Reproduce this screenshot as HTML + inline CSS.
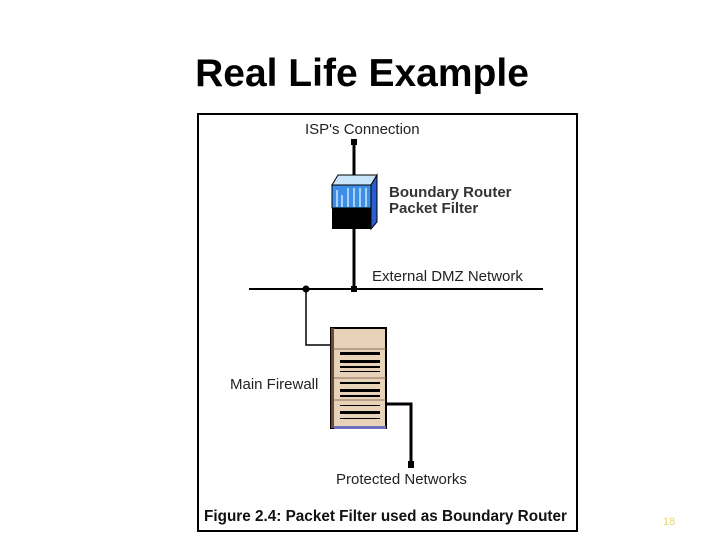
<!DOCTYPE html>
<html><head><style>
body{margin:0;width:720px;height:540px;background:#fff;position:relative;overflow:hidden;font-family:"Liberation Sans",Arial,sans-serif}
.t{position:absolute;white-space:nowrap;color:#222}
</style></head><body>
<div class="t" style="left:0;width:720px;top:52px;text-align:center;font-size:39px;font-weight:bold;color:#000;padding-left:2px">Real Life Example</div>
<svg width="720" height="540" style="position:absolute;left:0;top:0">
<rect x="198" y="114" width="379" height="417" fill="none" stroke="#000" stroke-width="2"/>
<g stroke="#000" fill="none">
<line x1="354" y1="142" x2="354" y2="289" stroke-width="3"/>
<line x1="249" y1="289" x2="543" y2="289" stroke-width="2"/>
<polyline points="306,289 306,345 331,345" stroke-width="1.5"/>
<polyline points="386,404 411,404 411,465" stroke-width="3"/>
</g>
<rect x="351" y="139" width="6" height="6" fill="#000"/>
<rect x="351" y="286" width="6" height="6" fill="#000"/>
<circle cx="306" cy="289" r="3.5" fill="#000"/>
<rect x="408" y="461" width="6" height="7" fill="#000"/>
<polygon points="332,185 338,175 377,175 371,185" fill="#c8e4f8" stroke="#000"/>
<polygon points="371,185 377,175 377,222 371,229" fill="#2a5ed0" stroke="#000"/>
<rect x="332" y="185" width="39" height="23" fill="#3d8ee8" stroke="#000"/>
<g stroke="#cfe8ff" stroke-width="1.5"><line x1="337" y1="190" x2="337" y2="207"/><line x1="342" y1="195" x2="342" y2="207"/><line x1="348" y1="188" x2="348" y2="207"/><line x1="354" y1="188" x2="354" y2="207"/><line x1="360" y1="188" x2="360" y2="207"/><line x1="366" y1="188" x2="366" y2="207"/></g>
<rect x="332" y="208" width="39" height="21" fill="#000"/>
<rect x="331" y="328" width="55" height="100" fill="#e8d2b8" stroke="#000" stroke-width="2"/>
<rect x="331" y="328" width="3" height="100" fill="#6a4a3a"/>
<rect x="334" y="426" width="52" height="3" fill="#7070c0"/>
<g fill="#000"><rect x="340" y="352" width="40" height="3"/><rect x="340" y="360" width="40" height="3"/><rect x="340" y="366" width="40" height="2"/><rect x="340" y="371" width="40" height="1"/>
<rect x="340" y="382" width="40" height="2"/><rect x="340" y="389" width="40" height="3"/><rect x="340" y="395" width="40" height="2"/>
<rect x="340" y="405" width="40" height="1"/><rect x="340" y="411" width="40" height="3"/><rect x="340" y="418" width="40" height="1"/></g>
<g stroke="#8a7060" stroke-width="1"><line x1="334" y1="349" x2="386" y2="349"/><line x1="334" y1="378" x2="386" y2="378"/><line x1="334" y1="400" x2="386" y2="400"/></g>
</svg>
<div class="t" style="left:305px;top:121px;font-size:15px">ISP's Connection</div>
<div class="t" style="left:389px;top:185px;font-size:15px;font-weight:bold;line-height:16px;color:#333">Boundary Router<br>Packet Filter</div>
<div class="t" style="left:372px;top:268px;font-size:15px">External DMZ Network</div>
<div class="t" style="left:230px;top:376px;font-size:15px">Main Firewall</div>
<div class="t" style="left:336px;top:471px;font-size:15px">Protected Networks</div>
<div class="t" style="left:204px;top:508px;font-size:15.3px;font-weight:bold;color:#111">Figure 2.4: Packet Filter used as Boundary Router</div>
<div class="t" style="left:663px;top:516px;font-size:11px;color:#e8d870">18</div>
</body></html>
